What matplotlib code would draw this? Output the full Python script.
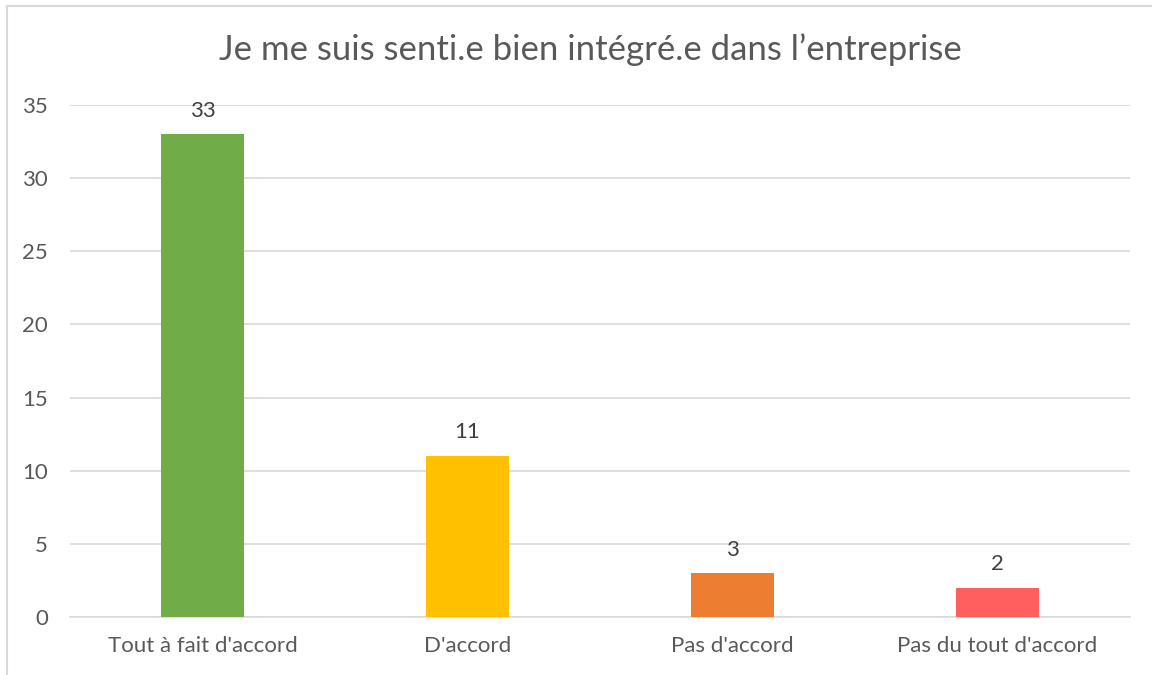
import matplotlib
matplotlib.use("Agg")
import matplotlib.pyplot as plt
from matplotlib.lines import Line2D

categories = ["Tout à fait d'accord", "D'accord", "Pas d'accord", "Pas du tout d'accord"]
values = [33, 11, 3, 2]
colors = ["#70AD47", "#FFC000", "#ED7D31", "#FF5F5F"]
yticks = [0, 5, 10, 15, 20, 25, 30, 35]
title = "Je me suis senti.e bien intégré.e dans l\u2019entreprise"

plt.rcParams['font.family'] = ['Lato', 'DejaVu Sans']
W, H = 1152, 675
fig = plt.figure(figsize=(W / 100, H / 100), dpi=100)

# chart border (left & top visible, cropped at right/bottom)
fig.add_artist(Line2D([7 / W, 7 / W], [0, 1 - 6 / H], transform=fig.transFigure, color="#D9D9D9", lw=1.5))
fig.add_artist(Line2D([7 / W, 1], [1 - 6 / H, 1 - 6 / H], transform=fig.transFigure, color="#D9D9D9", lw=1.5))

left, right = 70 / W, 1130 / W
bottom, top = 1 - 617 / H, 1 - 105 / H
ax = fig.add_axes([left, bottom, right - left, top - bottom])

x = list(range(len(categories)))
bars = ax.bar(x, values, width=0.315, color=colors, zorder=3)
ax.set_xlim(-0.5, len(categories) - 0.5)
ax.set_ylim(0, 35)
ax.set_yticks(yticks)
ax.set_xticks(x)
ax.set_xticklabels(categories)
ax.yaxis.grid(True, color="#D9D9D9", lw=1.2, zorder=0)
for s in ["top", "right", "left"]:
    ax.spines[s].set_visible(False)
ax.spines["bottom"].set_color("#D9D9D9")
ax.spines["bottom"].set_linewidth(1.2)
ax.tick_params(axis="both", length=0, colors="#595959", labelsize=16)
ax.tick_params(axis="y", pad=16)
ax.tick_params(axis="x", pad=14)

for b, v in zip(bars, values):
    ax.annotate(str(v), (b.get_x() + b.get_width() / 2, v), xytext=(0, 17),
                textcoords="offset points", ha="center", va="center",
                fontsize=16, color="#404040")

fig.text(590 / W, 1 - 50 / H, title, ha="center", va="center",
         fontsize=25, color="#595959")

fig.savefig("out.png", dpi=100)
